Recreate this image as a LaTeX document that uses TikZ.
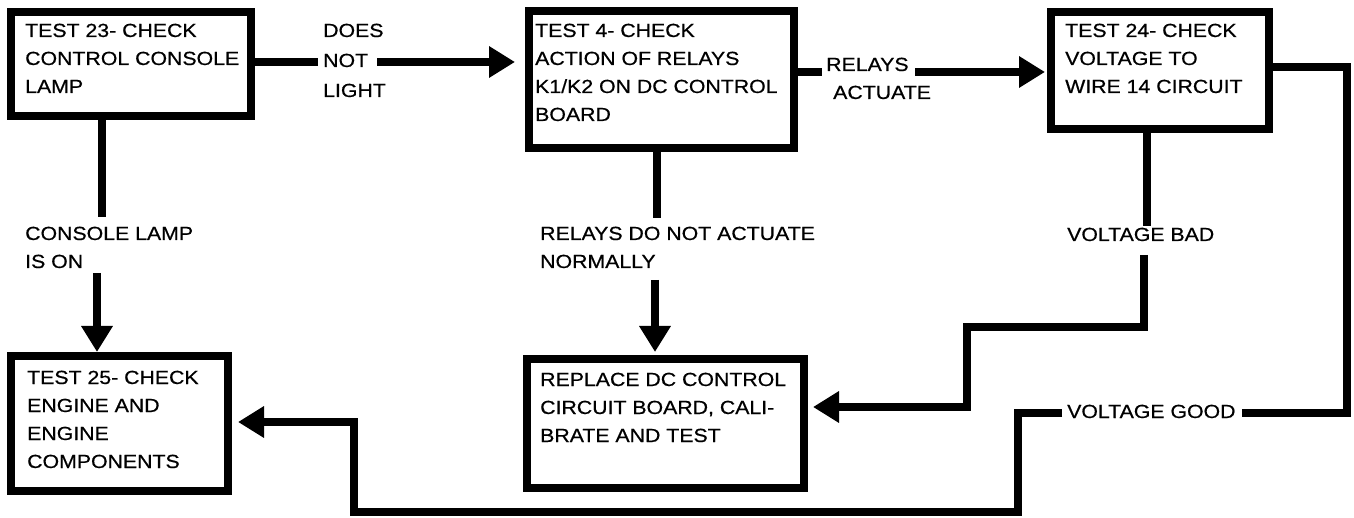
\documentclass[tikz,border=0pt]{standalone}
\usepackage{fontspec}
\setmainfont{Liberation Sans}[FakeStretch=1.12,FakeBold=0.6]
\usetikzlibrary{arrows.meta}
\newcommand\diagfont{\fontsize{19}{28}\selectfont}
\newcommand\widefont{\fontsize{19}{30}\selectfont}
\begin{document}
\begin{tikzpicture}[x=1pt,y=-1pt,
  box/.style={draw,line width=8pt,inner sep=0pt},
  txt/.style={font=\diagfont,align=left,inner sep=0pt,anchor=base west},
  ln/.style={line width=8pt},
  arr/.style={line width=8pt,-{Triangle[length=26pt,width=30pt]}}]
\fill[white] (0,0) rectangle (1354,518);
\useasboundingbox (0,0) rectangle (1354,518);
% boxes
\node[box,minimum width=240pt,minimum height=104pt] (b1) at (131,64) {};
\node[box,minimum width=265pt,minimum height=137pt] (b2) at (661.5,79.5) {};
\node[box,minimum width=218pt,minimum height=117pt] (b3) at (1160,70.5) {};
\node[box,minimum width=217pt,minimum height=135pt] (b4) at (119.5,423.5) {};
\node[box,minimum width=277pt,minimum height=129pt] (b5) at (665.5,423.5) {};
% box texts (anchor = baseline of last line)
\node[txt] (t1) at (25,93) {TEST 23- CHECK\\CONTROL CONSOLE\\LAMP};
\node[txt] (t2) at (535,121) {TEST 4- CHECK\\ACTION OF RELAYS\\K1/K2 ON DC CONTROL\\BOARD};
\node[txt] (t3) at (1065,93) {TEST 24- CHECK\\VOLTAGE TO\\WIRE 14 CIRCUIT};
\node[txt] (t4) at (27,468) {TEST 25- CHECK\\ENGINE AND\\ENGINE\\COMPONENTS};
\node[txt] (t5) at (540,442) {REPLACE DC CONTROL\\CIRCUIT BOARD, CALI-\\BRATE AND TEST};
% labels
\node[txt,font=\widefont] (l1) at (323,97) {DOES\\NOT\\LIGHT};
\node[txt] (l2) at (826,99) {RELAYS\\\hspace*{7pt}ACTUATE};
\node[txt] (l3) at (25,268) {CONSOLE LAMP\\IS ON};
\node[txt] (l4) at (540,268) {RELAYS DO NOT ACTUATE\\NORMALLY};
\node[txt] (l5) at (1067,241) {VOLTAGE BAD};
\node[txt] (l6) at (1067,418) {VOLTAGE GOOD};
% coordinates
\coordinate (a1) at (318,62);
\coordinate (a2) at (377,62);
\coordinate (a3) at (822,72);
\coordinate (a4) at (915,72);
\coordinate (c2) at (1347,413);
\coordinate (a5) at (1242,413);
\coordinate (a6) at (1062,413);
\coordinate (c3) at (1018,512);
\coordinate (c4) at (354,512);
\coordinate (v1a) at (102,217);
\coordinate (v1b) at (97,273);
\coordinate (v2a) at (657,218);
\coordinate (v2b) at (655,280);
\coordinate (v3a) at (1147,226);
\coordinate (v3b) at (1144,255);
\coordinate (c5) at (967,327);
% connectors
\draw[ln] ([yshift=2pt]b1.east) -- (a1);
\draw[arr,shorten >=10pt] (a2) -- ([yshift=17.5pt]b2.west);
\draw[ln] ([yshift=7.5pt]b2.east) -- (a3);
\draw[arr,shorten >=2pt] (a4) -- ([yshift=-1.5pt]b3.west);
\draw[ln] ([yshift=3.5pt]b3.east) -| (c2) -- (a5);
\draw[arr,shorten >=6pt] (a6) -| (c3) -- (c4) |- ([yshift=1.5pt]b4.east);
\draw[ln] (v1a |- b1.south) -- (v1a);
\draw[arr] (v1b) -- (v1b |- b4.north);
\draw[ln] (v2a |- b2.south) -- (v2a);
\draw[arr,shorten >=3pt] (v2b) -- (v2b |- b5.north);
\draw[ln] (v3a |- b3.south) -- (v3a);
\draw[arr,shorten >=5pt] (v3b) |- (c5) |- ([yshift=16.5pt]b5.east);
\end{tikzpicture}
\end{document}
